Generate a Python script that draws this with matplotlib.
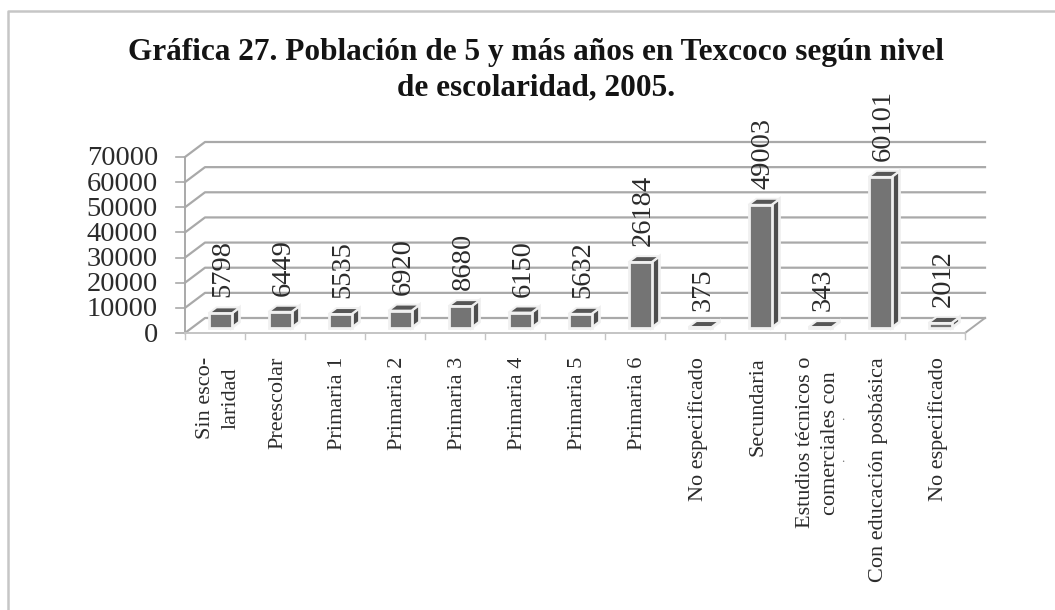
#!/usr/bin/env python3
"""Grafica 27: poblacion de Texcoco por nivel de escolaridad, barras con falso 3D"""

import matplotlib
matplotlib.use('Agg')
import matplotlib.pyplot as plt
from matplotlib.patches import Polygon

W, H = 1055, 610

categories = ['Sin esco-\nlaridad', 'Preescolar', 'Primaria 1', 'Primaria 2',
              'Primaria 3', 'Primaria 4', 'Primaria 5', 'Primaria 6',
              'No especificado', 'Secundaria',
              'Estudios técnicos o\ncomerciales con',
              'Con educación posbásica', 'No especificado']
values = [5798, 6449, 5535, 6920, 8680, 6150, 5632, 26184, 375, 49003, 343,
          60101, 2012]
y_ticks = [0, 10000, 20000, 30000, 40000, 50000, 60000, 70000]

title_lines = ['Gráfica 27. Población de 5 y más años en Texcoco según nivel',
               'de escolaridad, 2005.']

FRONT = '#747474'
TOP = '#565656'
SIDE = '#4e4e4e'
GRID = '#a9a9a9'
EDGE = '#f0f0f0'
TEXT = '#2b2b2b'

plt.rcParams['font.family'] = ['Liberation Serif', 'DejaVu Serif']

fig = plt.figure(figsize=(W / 100, H / 100), dpi=100)
fig.patch.set_facecolor('white')

# frame of the pasted chart, only left and top are inside the crop
fig.add_artist(plt.Line2D([7.5 / W, 7.5 / W, 1], [0, 1 - 10.5 / H, 1 - 10.5 / H],
                          color='#c6c6c6', lw=1.8))

# axes sit on the front plane of the fake 3D box
ax = fig.add_axes([185 / W, 1 - 333 / H, 780 / W, 176 / H])
ax.set_xlim(0, len(categories))
ax.set_ylim(0, 70000)
ax.axis('off')

n = len(categories)
px_x = n / 780
px_y = 70000 / 176
back_x, back_y = 20 * px_x, 15 * px_y

# walls and gridlines
for v in y_ticks:
    ax.plot([0, back_x, n + back_x], [v, v + back_y, v + back_y],
            color=GRID, lw=1.6, clip_on=False, zorder=1)
    ax.plot([-9 * px_x, 0], [v, v], color=GRID, lw=1.2, clip_on=False, zorder=1)
    ax.text(-27 * px_x, v - 2 * px_y, f'{v}', ha='right', va='center',
            fontsize=20.5, color=TEXT, clip_on=False)
ax.plot([0, 0], [0, 70000], color=GRID, lw=1.4, clip_on=False, zorder=1)
ax.plot([n, n + back_x], [0, back_y], color=GRID, lw=1.4, clip_on=False, zorder=1)
ax.plot([0, n], [0, 0], color='#c4c4c4', lw=1.4, clip_on=False, zorder=1)

# category ticks and labels
for i in range(n + 1):
    ax.plot([i, i], [0, -6 * px_y], color='#c4c4c4', lw=1, clip_on=False, zorder=1)

for i, cat in enumerate(categories):
    ax.text(i + 33 * px_x, -24 * px_y, cat, rotation=90, ha='center', va='top',
            fontsize=16, multialignment='center', linespacing=1.45, color=TEXT,
            clip_on=False)

# what is left of the cut third line of the Estudios label
for dot_y in [417, 459]:
    fig.text(843 / W, 1 - dot_y / H, '.', ha='center', va='center', fontsize=9,
             color='#777777')

# bars
bar_w = 23 * px_x
off_x = 23.5 * px_x
off_y = 5 * px_y
dep_x, dep_y = 8 * px_x, 6 * px_y
for i, v in enumerate(values):
    x0 = i + off_x
    x1 = x0 + bar_w
    y0 = off_y
    y1 = off_y + v
    ax.add_patch(Polygon([(x1, y0), (x1 + dep_x, y0 + dep_y),
                          (x1 + dep_x, y1 + dep_y), (x1, y1)],
                         facecolor=SIDE, edgecolor=EDGE, lw=2,
                         clip_on=False, zorder=3))
    ax.add_patch(Polygon([(x0, y1), (x1, y1), (x1 + dep_x, y1 + dep_y),
                          (x0 + dep_x, y1 + dep_y)],
                         facecolor=TOP, edgecolor=EDGE, lw=1.4,
                         clip_on=False, zorder=3))
    ax.bar(x0, v, width=bar_w, bottom=y0, align='edge', color=FRONT,
           edgecolor=EDGE, linewidth=2, clip_on=False, zorder=4)
    ax.text(x0 + bar_w / 2 + 3 * px_x, y1 + dep_y + 10 * px_y, f'{v}',
            rotation=90, ha='center', va='bottom', fontsize=20.5,
            color=TEXT, clip_on=False, zorder=5)

for line, y in zip(title_lines, [60, 95]):
    fig.text(536 / W, 1 - y / H, line, ha='center', va='baseline', fontsize=22.5,
             fontweight='bold', color='#141414')

fig.savefig('out.png', dpi=100)
